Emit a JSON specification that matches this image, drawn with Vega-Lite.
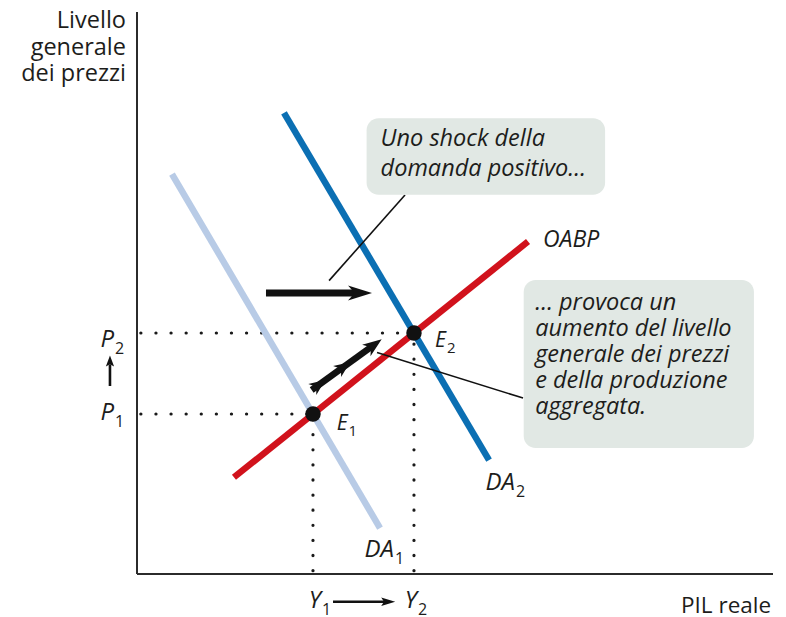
{
  "$schema": "https://vega.github.io/schema/vega-lite/v6.json",
  "width": 636,
  "height": 562,
  "autosize": {"type": "none"},
  "padding": {"left": 137, "top": 12, "right": 13, "bottom": 43},
  "background": "white",
  "config": {"view": {"stroke": null}, "font": "Open Sans"},
  "datasets": {
    "axes": [
      {"x": 0, "y": 0, "x2": 100, "y2": 0},
      {"x": 0, "y": 0, "x2": 0, "y2": 100}
    ],
    "guides": [
      {"x": 0.6, "y": 42.88, "x2": 43.55, "y2": 42.88},
      {"x": 0.6, "y": 28.47, "x2": 27.67, "y2": 28.47},
      {"x": 27.67, "y": 0.6, "x2": 27.67, "y2": 28.47},
      {"x": 43.55, "y": 0.6, "x2": 43.55, "y2": 42.88}
    ],
    "curves": [
      {"curve": "DA1", "x": 5.5, "y": 71.17},
      {"curve": "DA1", "x": 38.21, "y": 8.17},
      {"curve": "OABP", "x": 15.25, "y": 17.2},
      {"curve": "OABP", "x": 61.48, "y": 59.15},
      {"curve": "DA2", "x": 23.11, "y": 82.04},
      {"curve": "DA2", "x": 55.35, "y": 20.27}
    ],
    "equilibria": [
      {"name": "E1", "x": 27.67, "y": 28.47},
      {"name": "E2", "x": 43.55, "y": 42.88}
    ],
    "leaders": [
      {"x": 42.14, "y": 67.44, "x2": 30.2, "y2": 52.2},
      {"x": 37.74, "y": 39.4, "x2": 60.7, "y2": 31.3}
    ],
    "boxes": [
      {"x": 36.1, "x2": 73.6, "y": 81.1, "y2": 67.5},
      {"x": 60.8, "x2": 97.0, "y": 52.3, "y2": 22.4}
    ],
    "shockNote": [
      {"text": "Uno shock della\ndomanda positivo…", "x": 38.3, "y": 79.5}
    ],
    "outcomeNote": [
      {"text": "… provoca un\naumento del livello\ngenerale dei prezzi\ne della produzione\naggregata.", "x": 62.6, "y": 50.4}
    ],
    "labels": [
      {"main": "P", "sub": "2", "x": -3.62, "y": 40.39},
      {"main": "P", "sub": "1", "x": -3.62, "y": 27.4},
      {"main": "Y", "sub": "1", "x": 28.93, "y": -6.05},
      {"main": "Y", "sub": "2", "x": 44.03, "y": -6.05},
      {"main": "DA", "sub": "1", "x": 40.41, "y": 3.02},
      {"main": "DA", "sub": "2", "x": 59.43, "y": 14.95}
    ],
    "pointLabels": [
      {"main": "E", "sub": "1", "x": 33.1, "y": 25.62},
      {"main": "E", "sub": "2", "x": 48.58, "y": 40.39}
    ],
    "curveNames": [
      {"text": "OABP", "x": 63.84, "y": 58.19}
    ],
    "axisTitleX": [
      {"text": "PIL reale", "x": 99.7, "y": -6.94}
    ],
    "axisTitleY": [
      {"text": "Livello\ngenerale\ndei prezzi", "x": -1.73, "y": 100.5}
    ],
    "shockShaft": [{"x": 20.28, "y": 50, "x2": 34.4, "y2": 50}],
    "shockHead": [{"x": 36.95, "y": 50}],
    "moveShaft": [{"x": 27.47, "y": 32.74, "x2": 37.0, "y2": 40.55}],
    "moveHead": [{"x": 38.47, "y": 41.76}],
    "moveBarbs": [
      {"x": 29.6, "y": 34.5},
      {"x": 33.5, "y": 37.7}
    ],
    "riseShaft": [{"x": -4.25, "y": 33.45, "x2": -4.25, "y2": 37.3}],
    "riseHead": [{"x": -4.25, "y": 38.9}],
    "growShaft": [{"x": 30.82, "y": -4.95, "x2": 38.9, "y2": -4.95}],
    "growHead": [{"x": 40.6, "y": -4.95}]
  },
  "layer": [
    {
      "data": {"name": "axes"},
      "mark": {"type": "rule", "color": "#2b2b2b", "strokeWidth": 2},
      "encoding": {
        "x": {"field": "x", "type": "quantitative", "scale": {"domain": [0, 100], "nice": false, "zero": false}, "axis": null},
        "y": {"field": "y", "type": "quantitative", "scale": {"domain": [0, 100], "nice": false, "zero": false}, "axis": null},
        "x2": {"field": "x2"},
        "y2": {"field": "y2"}
      }
    },
    {
      "data": {"name": "guides"},
      "mark": {"type": "rule", "color": "#1a1a1a", "strokeWidth": 3.2, "strokeCap": "round", "strokeDash": [0.1, 15]},
      "encoding": {
        "x": {"field": "x", "type": "quantitative", "axis": null},
        "y": {"field": "y", "type": "quantitative", "axis": null},
        "x2": {"field": "x2"},
        "y2": {"field": "y2"}
      }
    },
    {
      "data": {"name": "curves"},
      "mark": {"type": "line", "strokeWidth": 6.5, "strokeCap": "butt"},
      "encoding": {
        "x": {"field": "x", "type": "quantitative", "axis": null},
        "y": {"field": "y", "type": "quantitative", "axis": null},
        "color": {
          "field": "curve",
          "type": "nominal",
          "scale": {"domain": ["DA1", "OABP", "DA2"], "range": ["#b8cbe6", "#d1121c", "#0b6fb3"]},
          "legend": null
        },
        "order": {"field": "x"}
      }
    },
    {
      "data": {"name": "leaders"},
      "mark": {"type": "rule", "color": "#111111", "strokeWidth": 1.6},
      "encoding": {
        "x": {"field": "x", "type": "quantitative", "axis": null},
        "y": {"field": "y", "type": "quantitative", "axis": null},
        "x2": {"field": "x2"},
        "y2": {"field": "y2"}
      }
    },
    {
      "data": {"name": "shockShaft"},
      "mark": {"type": "rule", "color": "#111111", "strokeWidth": 7, "strokeCap": "butt"},
      "encoding": {
        "x": {"field": "x", "type": "quantitative", "axis": null},
        "y": {"field": "y", "type": "quantitative", "axis": null},
        "x2": {"field": "x2"},
        "y2": {"field": "y2"}
      }
    },
    {
      "data": {"name": "shockHead"},
      "mark": {"type": "point", "shape": "M0,0L-2,-0.62L-1.45,0L-2,0.62Z", "filled": true, "color": "#111111", "opacity": 1, "size": 576, "angle": 0},
      "encoding": {
        "x": {"field": "x", "type": "quantitative", "axis": null},
        "y": {"field": "y", "type": "quantitative", "axis": null}
      }
    },
    {
      "data": {"name": "moveShaft"},
      "mark": {"type": "rule", "color": "#111111", "strokeWidth": 6.5, "strokeCap": "butt"},
      "encoding": {
        "x": {"field": "x", "type": "quantitative", "axis": null},
        "y": {"field": "y", "type": "quantitative", "axis": null},
        "x2": {"field": "x2"},
        "y2": {"field": "y2"}
      }
    },
    {
      "data": {"name": "moveHead"},
      "mark": {"type": "point", "shape": "M0,0L-2,-0.75L-1.4,0L-2,0.75Z", "filled": true, "color": "#111111", "opacity": 1, "size": 361, "angle": -36},
      "encoding": {
        "x": {"field": "x", "type": "quantitative", "axis": null},
        "y": {"field": "y", "type": "quantitative", "axis": null}
      }
    },
    {
      "data": {"name": "moveBarbs"},
      "mark": {"type": "point", "shape": "M0,0L-2,-0.85L-1.4,0L-2,0.85Z", "filled": true, "color": "#111111", "opacity": 1, "size": 256, "angle": -36},
      "encoding": {
        "x": {"field": "x", "type": "quantitative", "axis": null},
        "y": {"field": "y", "type": "quantitative", "axis": null}
      }
    },
    {
      "data": {"name": "riseShaft"},
      "mark": {"type": "rule", "color": "#111111", "strokeWidth": 2.6, "strokeCap": "butt"},
      "encoding": {
        "x": {"field": "x", "type": "quantitative", "axis": null},
        "y": {"field": "y", "type": "quantitative", "axis": null},
        "x2": {"field": "x2"},
        "y2": {"field": "y2"}
      }
    },
    {
      "data": {"name": "riseHead"},
      "mark": {"type": "point", "shape": "M0,0L-2,-0.75L-1.6,0L-2,0.75Z", "filled": true, "color": "#111111", "opacity": 1, "size": 121, "angle": -90},
      "encoding": {
        "x": {"field": "x", "type": "quantitative", "axis": null},
        "y": {"field": "y", "type": "quantitative", "axis": null}
      }
    },
    {
      "data": {"name": "growShaft"},
      "mark": {"type": "rule", "color": "#111111", "strokeWidth": 2.6, "strokeCap": "butt"},
      "encoding": {
        "x": {"field": "x", "type": "quantitative", "axis": null},
        "y": {"field": "y", "type": "quantitative", "axis": null},
        "x2": {"field": "x2"},
        "y2": {"field": "y2"}
      }
    },
    {
      "data": {"name": "growHead"},
      "mark": {"type": "point", "shape": "M0,0L-2,-0.6L-1.6,0L-2,0.6Z", "filled": true, "color": "#111111", "opacity": 1, "size": 196, "angle": 0},
      "encoding": {
        "x": {"field": "x", "type": "quantitative", "axis": null},
        "y": {"field": "y", "type": "quantitative", "axis": null}
      }
    },
    {
      "data": {"name": "equilibria"},
      "mark": {"type": "circle", "color": "#111111", "opacity": 1, "size": 240},
      "encoding": {
        "x": {"field": "x", "type": "quantitative", "axis": null},
        "y": {"field": "y", "type": "quantitative", "axis": null}
      }
    },
    {
      "data": {"name": "boxes"},
      "mark": {"type": "rect", "color": "#e1e8e4", "cornerRadius": 12},
      "encoding": {
        "x": {"field": "x", "type": "quantitative", "axis": null},
        "x2": {"field": "x2"},
        "y": {"field": "y", "type": "quantitative", "axis": null},
        "y2": {"field": "y2"}
      }
    },
    {
      "data": {"name": "shockNote"},
      "mark": {"type": "text", "align": "left", "baseline": "top", "fontSize": 23.5, "fontStyle": "italic", "lineHeight": 30, "lineBreak": "\n", "color": "#1d1d1b"},
      "encoding": {
        "x": {"field": "x", "type": "quantitative", "axis": null},
        "y": {"field": "y", "type": "quantitative", "axis": null},
        "text": {"field": "text"}
      }
    },
    {
      "data": {"name": "outcomeNote"},
      "mark": {"type": "text", "align": "left", "baseline": "top", "fontSize": 23.5, "fontStyle": "italic", "lineHeight": 26, "lineBreak": "\n", "color": "#1d1d1b"},
      "encoding": {
        "x": {"field": "x", "type": "quantitative", "axis": null},
        "y": {"field": "y", "type": "quantitative", "axis": null},
        "text": {"field": "text"}
      }
    },
    {
      "data": {"name": "labels"},
      "layer": [
        {
          "mark": {"type": "text", "align": "right", "baseline": "alphabetic", "fontSize": 24, "fontStyle": "italic", "color": "#1d1d1b"},
          "encoding": {
            "x": {"field": "x", "type": "quantitative", "axis": null},
            "y": {"field": "y", "type": "quantitative", "axis": null},
            "text": {"field": "main"}
          }
        },
        {
          "mark": {"type": "text", "align": "left", "baseline": "alphabetic", "fontSize": 16, "dx": 1, "dy": 7, "color": "#1d1d1b"},
          "encoding": {
            "x": {"field": "x", "type": "quantitative", "axis": null},
            "y": {"field": "y", "type": "quantitative", "axis": null},
            "text": {"field": "sub"}
          }
        }
      ]
    },
    {
      "data": {"name": "pointLabels"},
      "layer": [
        {
          "mark": {"type": "text", "align": "right", "baseline": "alphabetic", "fontSize": 21, "fontStyle": "italic", "color": "#1d1d1b"},
          "encoding": {
            "x": {"field": "x", "type": "quantitative", "axis": null},
            "y": {"field": "y", "type": "quantitative", "axis": null},
            "text": {"field": "main"}
          }
        },
        {
          "mark": {"type": "text", "align": "left", "baseline": "alphabetic", "fontSize": 15, "dx": 1, "dy": 6, "color": "#1d1d1b"},
          "encoding": {
            "x": {"field": "x", "type": "quantitative", "axis": null},
            "y": {"field": "y", "type": "quantitative", "axis": null},
            "text": {"field": "sub"}
          }
        }
      ]
    },
    {
      "data": {"name": "curveNames"},
      "mark": {"type": "text", "align": "left", "baseline": "alphabetic", "fontSize": 23, "fontStyle": "italic", "color": "#1d1d1b"},
      "encoding": {
        "x": {"field": "x", "type": "quantitative", "axis": null},
        "y": {"field": "y", "type": "quantitative", "axis": null},
        "text": {"field": "text"}
      }
    },
    {
      "data": {"name": "axisTitleX"},
      "mark": {"type": "text", "align": "right", "baseline": "alphabetic", "fontSize": 22.5, "color": "#1d1d1b"},
      "encoding": {
        "x": {"field": "x", "type": "quantitative", "axis": null},
        "y": {"field": "y", "type": "quantitative", "axis": null},
        "text": {"field": "text"}
      }
    },
    {
      "data": {"name": "axisTitleY"},
      "mark": {"type": "text", "align": "right", "baseline": "top", "fontSize": 23.5, "lineHeight": 26.5, "lineBreak": "\n", "color": "#1d1d1b"},
      "encoding": {
        "x": {"field": "x", "type": "quantitative", "axis": null},
        "y": {"field": "y", "type": "quantitative", "axis": null},
        "text": {"field": "text"}
      }
    }
  ]
}
